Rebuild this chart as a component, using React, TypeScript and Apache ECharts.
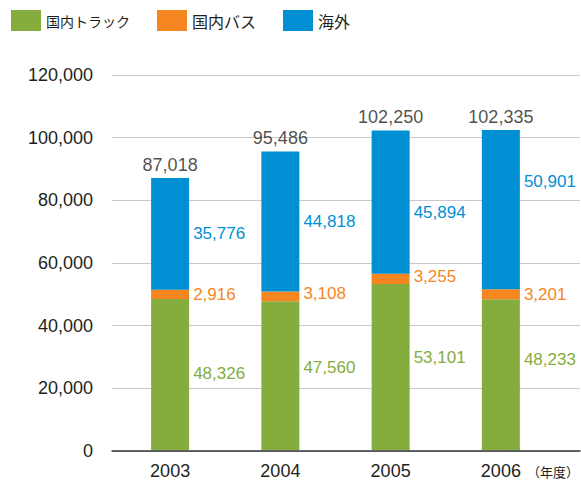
import React, { useEffect, useRef } from "react";
import * as echarts from "echarts";

const categories = ["2003", "2004", "2005", "2006"];
const seriesNames = ["国内トラック", "国内バス", "海外"];
const domesticTruck = [48326, 47560, 53101, 48233];
const domesticBus = [2916, 3108, 3255, 3201];
const overseas = [35776, 44818, 45894, 50901];
const totals = [87018, 95486, 102250, 102335];
const yTicks = [0, 20000, 40000, 60000, 80000, 100000, 120000];
const unitLabel = "（年度）";

// label vertical nudges (px), purely presentational
const truckNudge = [-1, -8, -10, -15];
const busNudge = [0, -3, -2, 0];
const overseasNudge = [0, 0, 10, -28];
const legendFontSizes = [14, 16, 16];

const GREEN = "#84ad3e";
const ORANGE = "#f6861f";
const BLUE = "#008fd3";
const DARK = "#231f20";
const NUM_FONT = "'Liberation Sans', Arial, Helvetica, sans-serif";
const JP_FONT = "'Noto Sans CJK JP', sans-serif";

const fmt = (v: number) => v.toLocaleString("en-US");

export default function App() {
  const ref = useRef<HTMLDivElement>(null);
  useEffect(() => {
    if (!ref.current) return;
    const chart = echarts.init(ref.current, undefined, { renderer: "svg" });
    const yMin = yTicks[0];
    const yMax = yTicks[yTicks.length - 1];
    const yInterval = yTicks[1] - yTicks[0];
    const mkSeries = (name: string, vals: number[], color: string, nudge: number[]) => ({
      name,
      type: "bar",
      stack: "total",
      xAxisIndex: 1,
      yAxisIndex: 1,
      barWidth: 38,
      itemStyle: { color },
      label: {
        show: true,
        position: "right",
        distance: 4,
        color,
        fontSize: 17,
        fontFamily: NUM_FONT,
        formatter: (p: any) => fmt(p.value),
      },
      data: vals.map((v, i) => ({ value: v, label: { offset: [0, nudge[i]] } })),
    });
    chart.setOption({
      animation: false,
      legend: {
        left: 6,
        top: 5,
        itemWidth: 30,
        itemHeight: 21,
        itemGap: 27,
        icon: "rect",
        data: seriesNames.map((n, i) => ({
          name: n,
          textStyle: { fontSize: legendFontSizes[i] },
        })),
        textStyle: { fontSize: 15, color: DARK, fontFamily: JP_FONT },
      },
      grid: [
        { left: 112, right: 1, top: 74.9, bottom: 28.9 },
        { left: 115, width: 441, top: 74.9, bottom: 28.9 },
      ],
      xAxis: [
        {
          type: "value",
          gridIndex: 0,
          min: 0,
          max: 1,
          axisLine: { show: true, lineStyle: { color: "#333", width: 1.5 } },
          axisTick: { show: false },
          axisLabel: { show: false },
          splitLine: { show: false },
          z: 5,
        },
        {
          type: "category",
          gridIndex: 1,
          data: categories,
          axisLine: { show: false },
          axisTick: { show: false },
          axisLabel: { fontSize: 18, color: DARK, margin: 12, fontFamily: NUM_FONT },
        },
      ],
      yAxis: [
        {
          type: "value",
          gridIndex: 0,
          min: yMin,
          max: yMax,
          interval: yInterval,
          axisLine: { show: false },
          axisTick: { show: false },
          axisLabel: {
            fontSize: 18,
            color: DARK,
            margin: 19,
            fontFamily: NUM_FONT,
            formatter: (v: number) => fmt(v),
          },
          splitLine: { lineStyle: { color: "#c8c8c8", width: 1 } },
        },
        {
          type: "value",
          gridIndex: 1,
          min: yMin,
          max: yMax,
          interval: yInterval,
          show: false,
          splitLine: { show: false },
        },
      ],
      series: [
        mkSeries(seriesNames[0], domesticTruck, GREEN, truckNudge),
        mkSeries(seriesNames[1], domesticBus, ORANGE, busNudge),
        mkSeries(seriesNames[2], overseas, BLUE, overseasNudge),
        {
          name: "合計",
          type: "scatter",
          xAxisIndex: 1,
          yAxisIndex: 1,
          symbolSize: 0.1,
          itemStyle: { color: "rgba(0,0,0,0)" },
          label: {
            show: true,
            position: "top",
            distance: 4,
            color: DARK,
            fontSize: 18,
            fontFamily: NUM_FONT,
            formatter: (p: any) => fmt(p.value),
          },
          data: totals,
          z: 10,
        },
      ],
      graphic: [
        {
          type: "text",
          left: 527,
          top: 465,
          style: { text: unitLabel, fontSize: 13, fill: DARK, fontFamily: JP_FONT },
        },
      ],
    });
    return () => chart.dispose();
  }, []);
  return <div ref={ref} style={{ width: 581, height: 480, position: "absolute", left: 0, top: 0 }} />;
}
